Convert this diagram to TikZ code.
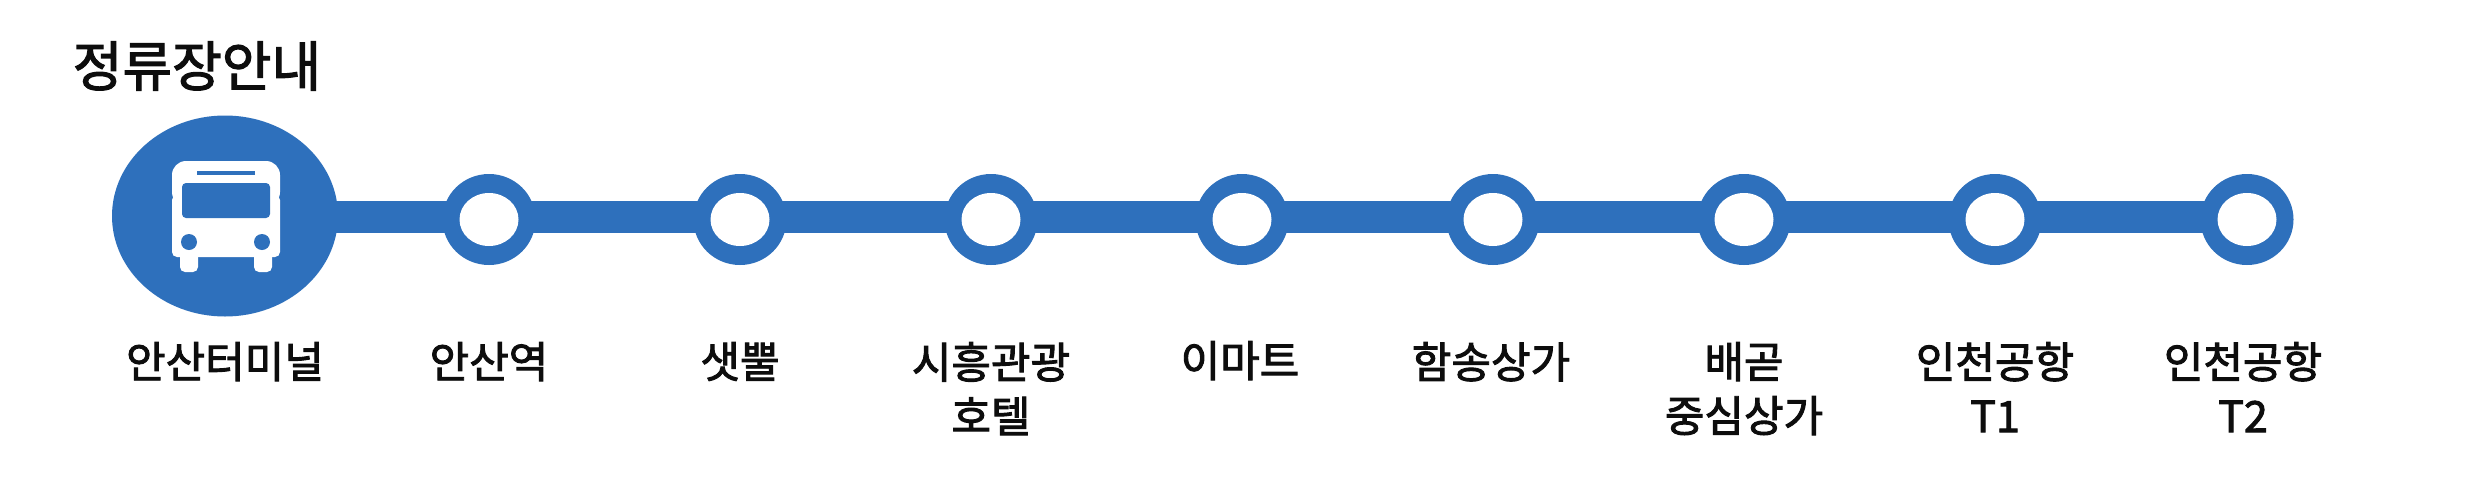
\documentclass[tikz,border=0pt]{standalone}
\usepackage{fontspec}
\setmainfont{Noto Sans CJK KR}[FakeBold=2.2]
\usetikzlibrary{shapes.geometric}
\definecolor{lineblue}{RGB}{46,112,188}
\tikzset{
  x=1pt,y=-1pt,
  stop/.style={ellipse,fill=lineblue,minimum width=93pt,minimum height=91pt,inner sep=0pt},
  hole/.style={ellipse,fill=white,minimum width=59pt,minimum height=53pt,inner sep=0pt},
  hub/.style={ellipse,fill=lineblue,minimum width=226pt,minimum height=201pt,inner sep=0pt},
  lab/.style={font=\fontsize{43}{54}\selectfont,align=center,anchor=north,inner sep=0pt,text=black!95},
  ttl/.style={font=\fontsize{54}{54}\selectfont,inner sep=0pt,text=black!95},
  rail/.style={draw=lineblue,line width=32pt}
}
\begin{document}
\begin{tikzpicture}
\useasboundingbox (0,0) rectangle (2490,496);
\fill[white] (0,0) rectangle (2490,496);
\coordinate (s1) at (225,217);
\coordinate (s9) at (2247,217);
\draw[rail] (s1) -- (s9);
\node[hub] (hub) at (225,216) {};
\foreach \n/\px in {2/489,3/740,4/991,5/1242,6/1493,7/1744,8/1995,9/2247}{
  \node[stop] (a\n) at (\px,219.5) {};
  \node[hole] (h\n) at (\px,219.5) {};
}
% bus icon
\fill[white,rounded corners=14pt] (172,206) -- (172,161) -- (280,161) -- (280,206) -- cycle;
\fill[white,rounded corners=5pt] (172,195) -- (172,257) -- (280,257) -- (280,195) -- cycle;
\fill[white,rounded corners=5pt] (180,245) rectangle (198,272);
\fill[white,rounded corners=5pt] (254,245) rectangle (272,272);
\fill[lineblue,rounded corners=4pt] (182,183) rectangle (270,218);
\fill[lineblue] (197,171) rectangle (255,175);
\fill[lineblue] (189,242) circle[radius=8];
\fill[lineblue] (262,242) circle[radius=8];
% text
\node[ttl,anchor=center] (title) at (197,66) {정류장안내};
\node[lab] (l1) at (225,342) {안산터미널};
\node[lab] (l2) at (489,342) {안산역};
\node[lab] (l3) at (740,342) {샛뿔};
\node[lab] (l4) at (991,342) {시흥관광\\호텔};
\node[lab] (l5) at (1240,341) {이마트};
\node[lab] (l6) at (1491,342) {함송상가};
\node[lab] (l7) at (1744,342) {배곧\\중심상가};
\node[lab] (l8) at (1995,342) {인천공항\\T1};
\node[lab] (l9) at (2243,342) {인천공항\\T2};
\end{tikzpicture}
\end{document}
